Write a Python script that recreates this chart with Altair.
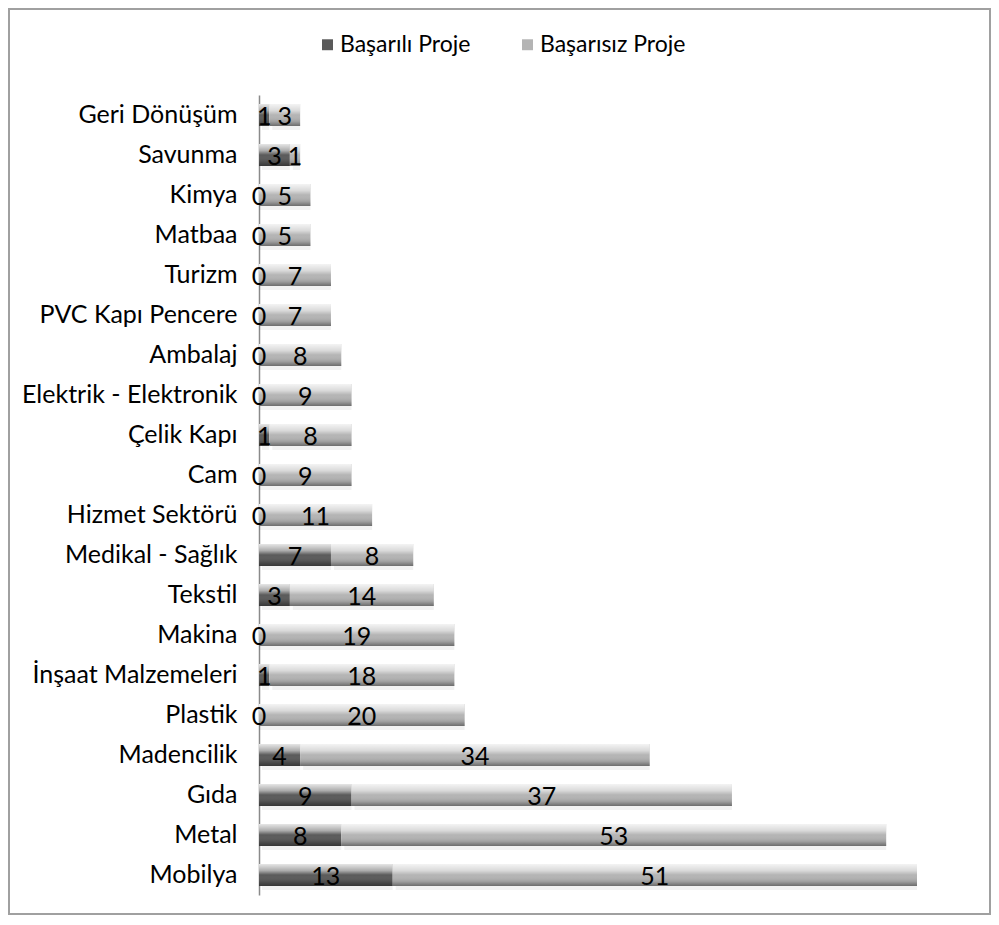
import altair as alt
import pandas as pd

categories = ["Geri Dönüşüm", "Savunma", "Kimya", "Matbaa", "Turizm",
              "PVC Kapı Pencere", "Ambalaj", "Elektrik - Elektronik", "Çelik Kapı", "Cam",
              "Hizmet Sektörü", "Medikal - Sağlık", "Tekstil", "Makina", "İnşaat Malzemeleri",
              "Plastik", "Madencilik", "Gıda", "Metal", "Mobilya"]
basarili = [1, 3, 0, 0, 0, 0, 0, 0, 1, 0, 0, 7, 3, 0, 1, 0, 4, 9, 8, 13]
basarisiz = [3, 1, 5, 5, 7, 7, 8, 9, 8, 9, 11, 8, 14, 19, 18, 20, 34, 37, 53, 51]
series = ["Başarılı Proje", "Başarısız Proje"]
colors = ["#5a5a5a", "#b4b4b4"]

rows = []
for c, s, f in zip(categories, basarili, basarisiz):
    rows.append({"category": c, "series": series[0], "value": s, "order": 0})
    rows.append({"category": c, "series": series[1], "value": f, "order": 1})
df = pd.DataFrame(rows)

FONT = "Lato"
W, H = 658, 800

base = alt.Chart(df).transform_stack(
    stack="value", as_=["x0", "x1"], groupby=["category"],
    sort=[alt.SortField("order", order="ascending")]
).transform_calculate(mid="(datum.x0 + datum.x1) / 2")

yenc = alt.Y("category:N", sort=categories,
             scale=alt.Scale(paddingInner=0.45, paddingOuter=0.225),
             axis=alt.Axis(title=None, ticks=False, grid=False, domainColor="#8a8a8a",
                           domainWidth=1.5, labelFont=FONT, labelFontSize=25,
                           labelColor="#000000", labelPadding=22, labelLimit=400))
xscale = alt.Scale(domain=[0, 64], nice=False, zero=True)

shadow = base.mark_bar(color="#000000", opacity=0.05, xOffset=3, yOffset=4).encode(
    x=alt.X("x0:Q", scale=xscale, axis=None), x2="x1:Q", y=yenc)

bars = base.mark_bar().encode(
    x=alt.X("x0:Q", scale=xscale, axis=None), x2="x1:Q", y=yenc,
    color=alt.Color("series:N", sort=series,
                    scale=alt.Scale(domain=series, range=colors),
                    legend=alt.Legend(title=None, orient="none", legendX=57, legendY=-62,
                                      direction="horizontal", symbolType="square",
                                      symbolSize=120, symbolStrokeWidth=0,
                                      labelFont=FONT, labelFontSize=23, labelColor="#000000",
                                      labelOffset=1, columnPadding=45)))

gloss = base.mark_bar(fill=alt.Gradient(
    gradient="linear", x1=0, y1=0, x2=0, y2=1,
    stops=[alt.GradientStop(offset=0, color="rgba(255,255,255,0.85)"),
           alt.GradientStop(offset=0.3, color="rgba(255,255,255,0.5)"),
           alt.GradientStop(offset=0.5, color="rgba(255,255,255,0.0)"),
           alt.GradientStop(offset=0.8, color="rgba(0,0,0,0.12)"),
           alt.GradientStop(offset=1, color="rgba(0,0,0,0.4)")])).encode(
    x=alt.X("x0:Q", scale=xscale, axis=None), x2="x1:Q", y=yenc)

labels = base.mark_text(font=FONT, fontSize=25, color="#000000", baseline="middle",
                        align="center", dy=2).encode(
    x=alt.X("mid:Q", scale=xscale, axis=None), y=yenc, text="value:Q")

border = alt.Chart(pd.DataFrame({"a": [0]})).mark_rect(
    filled=False, stroke="#a0a0a0", strokeWidth=2).encode(
    x=alt.value(-250), x2=alt.value(731), y=alt.value(-86), y2=alt.value(819))

chart = alt.layer(border, shadow, bars, gloss, labels).properties(
    width=W, height=H, padding=0
).configure_view(stroke=None)

chart.save("out.html", embed_options={"renderer": "svg", "actions": False})
